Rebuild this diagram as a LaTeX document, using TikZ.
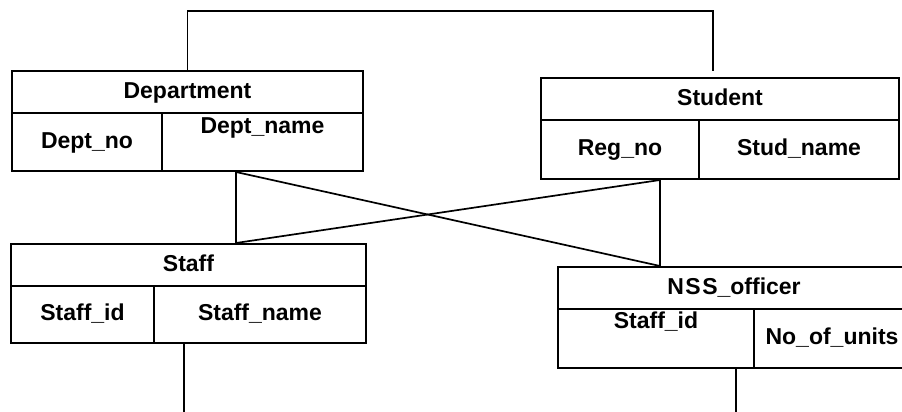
\documentclass[tikz,border=0pt]{standalone}
\usepackage{fontspec}
\setmainfont{Liberation Sans}
\usetikzlibrary{calc}
\begin{document}
\begin{tikzpicture}[x=1pt,y=-1pt,
  cell/.style={draw,line width=2pt,inner sep=0pt,minimum width=#1},
  txt/.style={inner sep=0pt,text height=16.5pt,text depth=0pt,yshift=2pt,font=\fontsize{23}{25}\selectfont\bfseries},
  conn/.style={line width=1.7pt}]
\useasboundingbox (0,0) rectangle (902,412);
% Department
\node[cell=351,minimum height=42] (dh) at (187.5,92) {};
\node[cell=150,minimum height=58] (dno) at (87,142) {};
\node[cell=201,minimum height=58] (dnm) at (262.5,142) {};
\node[txt] (dht) at (dh.center) {Department};
\node[txt] (dnot) at (dno.center) {Dept\_no};
\node[txt] (dnmt) at ($(dnm.center)+(0,-14.5)$) {Dept\_name};
% Student
\node[cell=358,minimum height=42] (sh) at (720,99) {};
\node[cell=158,minimum height=59] (srn) at (620,149.5) {};
\node[cell=200,minimum height=59] (ssn) at (799,149.5) {};
\node[txt] (sht) at (sh.center) {Student};
\node[txt] (srnt) at (srn.center) {Reg\_no};
\node[txt] (ssnt) at (ssn.center) {Stud\_name};
% Staff
\node[cell=355,minimum height=42] (fh) at (188.5,265) {};
\node[cell=143,minimum height=57] (fid) at (82.5,314.5) {};
\node[cell=212,minimum height=57] (fnm) at (260,314.5) {};
\node[txt] (fht) at (fh.center) {Staff};
\node[txt] (fidt) at (fid.center) {Staff\_id};
\node[txt] (fnmt) at (fnm.center) {Staff\_name};
% NSS officer
\node[cell=352,minimum height=42] (nh) at (734,288) {};
\node[cell=196,minimum height=59] (nid) at (656,338.5) {};
\node[cell=156,minimum height=59] (nun) at (832,338.5) {};
\node[txt] (nht) at (nh.center) {N\kern1.5pt S\kern1.5pt S\_officer};
\node[txt] (nidt) at ($(nid.center)+(0,-16.5)$) {Staff\_id};
\node[txt] (nunt) at (nun.center) {No\_of\_units};
% connector points
\coordinate (topR) at (713,11);
\coordinate (stTop) at (713,71);
\coordinate (a) at (dnm.south -| 236,0);
\coordinate (b) at (fh.north -| 236,0);
\coordinate (c) at (srn.south -| 660,0);
\coordinate (d) at (nh.north -| 660,0);
\coordinate (e) at (fnm.south -| 184,0);
\coordinate (e2) at (184,412);
\coordinate (f) at (nid.south -| 736,0);
\coordinate (f2) at (736,412);
% connectors
\draw[conn] (dh.north) |- (topR) -- (stTop);
\draw[conn] (a) -- (b);
\draw[conn] (a) -- (d);
\draw[conn] (c) -- (b);
\draw[conn] (c) -- (d);
\draw[conn] (e) -- (e2);
\draw[conn] (f) -- (f2);
\end{tikzpicture}
\end{document}
